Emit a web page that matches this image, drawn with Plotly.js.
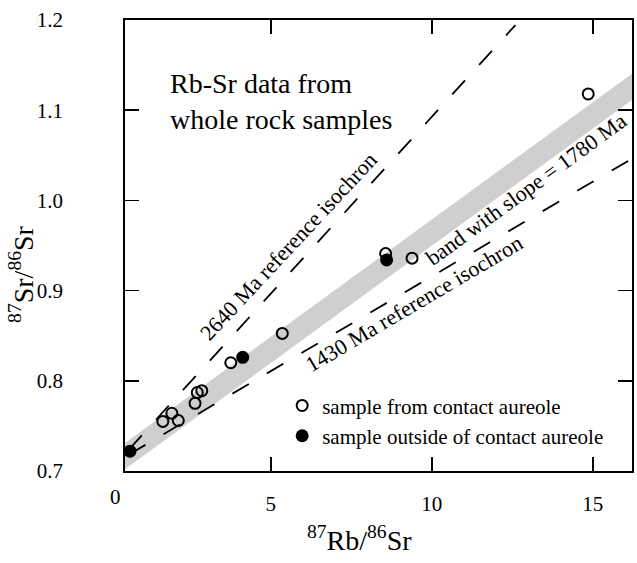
<!DOCTYPE html>
<html>
<head>
<meta charset="utf-8">
<script src="https://cdn.plot.ly/plotly-3.0.1.min.js"></script>
<style>html,body{margin:0;padding:0;background:#fff;}#chart{width:637px;height:563px;}</style>
</head>
<body>
<div id="chart"></div>
<script>
// ---- data ----
const openX = [1.65, 1.93, 2.13, 2.65, 2.72, 2.86, 3.76, 5.36, 8.57, 9.39, 14.86];
const openY = [0.755, 0.764, 0.756, 0.775, 0.787, 0.789, 0.820, 0.8525, 0.941, 0.936, 1.118];
const fillX = [0.63, 4.13, 8.60];
const fillY = [0.722, 0.826, 0.934];

// reference isochrons: y = intercept + slope * x
const isoLabels = ['2640 Ma reference isochron', '1430 Ma reference isochron'];
const isoIntercept = [0.7005, 0.7057];
const isoSlope = [0.0392, 0.0210];
const isoXStart = [0.6, 0.6];
const isoXEnd = [12.6, 16.22];

// band with slope = 1780 Ma
const bandLabel = 'band with slope = 1780 Ma';
const bandIntercept = 0.7042;
const bandSlope = 0.026;
const bandHalf = 0.0145;
const bandXRange = [0.475, 16.22];

const xTicks = [5, 10, 15];
const yTicks = [0.7, 0.8, 0.9, 1.0, 1.1, 1.2];
const xTitle = '<sup>87</sup>Rb/<sup>86</sup>Sr';
const yTitle = '<sup>87</sup>Sr/<sup>86</sup>Sr';

const FONT = '"Liberation Serif", "Times New Roman", serif';

// ---- traces ----
const traces = [];
const bx0 = bandXRange[0], bx1 = bandXRange[1];
traces.push({
  x: [bx0, bx1, bx1, bx0, bx0],
  y: [bandIntercept + bandSlope*bx0 + bandHalf, bandIntercept + bandSlope*bx1 + bandHalf,
      bandIntercept + bandSlope*bx1 - bandHalf, bandIntercept + bandSlope*bx0 - bandHalf,
      bandIntercept + bandSlope*bx0 + bandHalf],
  mode: 'lines', fill: 'toself', fillcolor: '#cfcfcf', line: {width: 0},
  showlegend: false, hoverinfo: 'skip', name: bandLabel
});
for (let i = 0; i < isoLabels.length; i++) {
  const xs = [isoXStart[i], isoXEnd[i]];
  traces.push({
    x: xs, y: xs.map(v => isoIntercept[i] + isoSlope[i]*v),
    mode: 'lines', line: {color: '#000', width: 1.8, dash: '19px,21px'},
    showlegend: false, name: isoLabels[i]
  });
}
traces.push({
  x: openX, y: openY, mode: 'markers', name: 'sample from contact aureole',
  marker: {symbol: 'circle-open', size: 11, color: '#000', line: {width: 2, color: '#000'}}
});
traces.push({
  x: fillX, y: fillY, mode: 'markers', name: 'sample outside of contact aureole',
  marker: {symbol: 'circle', size: 13, color: '#000'}
});

const axisCommon = {
  showline: true, linecolor: '#000', linewidth: 1.8, mirror: 'ticks',
  ticks: 'inside', ticklen: 14, tickwidth: 1.6, tickcolor: '#000',
  showgrid: false, zeroline: false,
  tickfont: {family: FONT, size: 21, color: '#000'}
};

const layout = {
  width: 637, height: 563,
  margin: {l: 125, r: 5, t: 20, b: 92},
  paper_bgcolor: '#fff', plot_bgcolor: '#fff',
  font: {family: FONT, color: '#000'},
  xaxis: Object.assign({}, axisCommon, {
    range: [0.475, 16.22], tickvals: xTicks, ticktext: xTicks.map(String),
    ticklabelstandoff: 13
  }),
  yaxis: Object.assign({}, axisCommon, {
    range: [0.7, 1.2], tickvals: yTicks, ticktext: yTicks.map(v => v.toFixed(1)),
    ticklabelstandoff: 56
  }),
  legend: {
    x: 0.31, y: 0.19, xanchor: 'left', yanchor: 'top',
    bgcolor: 'rgba(0,0,0,0)', borderwidth: 0,
    font: {family: FONT, size: 21, color: '#000'},
    tracegroupgap: 0, itemwidth: 30
  },
  annotations: [
    {xref: 'paper', yref: 'paper', x: -0.0197, y: -0.058, text: '0', showarrow: false,
     font: {family: FONT, size: 21, color: '#000'}, xanchor: 'center', yanchor: 'middle'},
    {xref: 'paper', yref: 'paper', x: 0.4635, y: -0.15, text: xTitle, showarrow: false,
     font: {family: FONT, size: 28, color: '#000'}, xanchor: 'center', yanchor: 'middle'},
    {xref: 'paper', yref: 'paper', x: -0.203, y: 0.435, text: yTitle, showarrow: false, textangle: -90,
     font: {family: FONT, size: 28, color: '#000'}, xanchor: 'center', yanchor: 'middle'},
    {xref: 'paper', yref: 'paper', x: 0.085, y: 0.82, text: 'Rb-Sr data from<br>whole rock samples',
     showarrow: false, align: 'left', xanchor: 'left', yanchor: 'middle',
     font: {family: FONT, size: 28, color: '#000'}},
    {xref: 'paper', yref: 'paper', x: 0.322, y: 0.497, text: isoLabels[0], showarrow: false,
     xanchor: 'center', yanchor: 'middle',
     textangle: -47, font: {family: FONT, size: 22, color: '#000'}},
    {xref: 'paper', yref: 'paper', x: 0.570, y: 0.3725, text: isoLabels[1], showarrow: false,
     xanchor: 'center', yanchor: 'middle',
     textangle: -30.5, font: {family: FONT, size: 22, color: '#000'}},
    {xref: 'paper', yref: 'paper', x: 0.79, y: 0.625, text: bandLabel, showarrow: false,
     xanchor: 'center', yanchor: 'middle',
     textangle: -36, font: {family: FONT, size: 22, color: '#000'}}
  ]
};

Plotly.newPlot('chart', traces, layout, {displayModeBar: false, staticPlot: true});
</script>
</body>
</html>
